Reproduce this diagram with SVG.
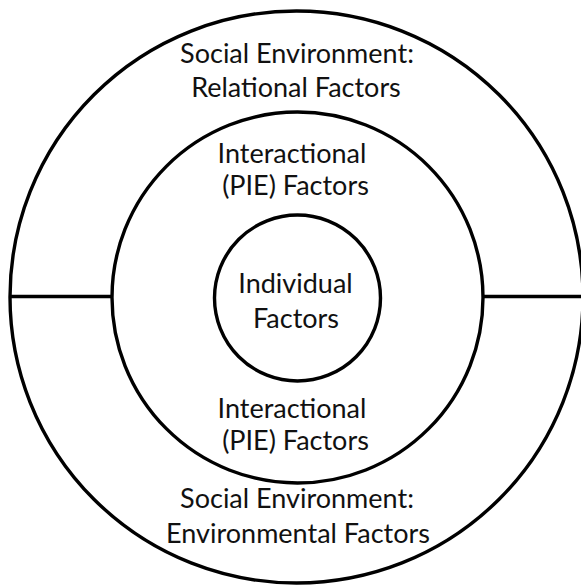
<svg xmlns="http://www.w3.org/2000/svg" width="581" height="586" viewBox="0 0 581 586">
  <style>
    .ring { fill: none; stroke: #000; stroke-width: 3.4; }
    .divider { stroke: #000; stroke-width: 3.4; }
    .label { font-family: Lato, "Open Sans", "Liberation Sans", sans-serif; font-size: 27px; fill: #111; text-anchor: middle; }
  </style>
  <rect width="581" height="586" fill="#fff"/>

  <!-- outer ring: social environment, split into relational (top) and environmental (bottom) halves -->
  <g id="social-environment">
    <ellipse class="ring" cx="296.5" cy="297" rx="286.5" ry="286"/>
    <text class="label" x="297" y="63">Social Environment:</text>
    <text class="label" x="296" y="97">Relational Factors</text>
    <text class="label" x="297" y="508">Social Environment:</text>
    <text class="label" x="298" y="543">Environmental Factors</text>
  </g>

  <!-- middle ring: person-in-environment interactions -->
  <g id="interactional">
    <circle class="ring" cx="297.5" cy="297.5" r="185.5"/>
    <text class="label" x="292" y="163">Interactional</text>
    <text class="label" x="295.5" y="195">(PIE) Factors</text>
    <text class="label" x="292" y="418">Interactional</text>
    <text class="label" x="295.5" y="450">(PIE) Factors</text>
  </g>

  <!-- core: the individual -->
  <g id="individual">
    <circle class="ring" cx="297.5" cy="298" r="83"/>
    <text class="label" x="295.5" y="293">Individual</text>
    <text class="label" x="296" y="328">Factors</text>
  </g>

  <!-- dividers between the two halves of the outer ring -->
  <g id="connectors">
    <line class="divider" x1="10" y1="296.5" x2="112" y2="296.5"/>
    <line class="divider" x1="483" y1="296.5" x2="581" y2="296.5"/>
  </g>
</svg>
